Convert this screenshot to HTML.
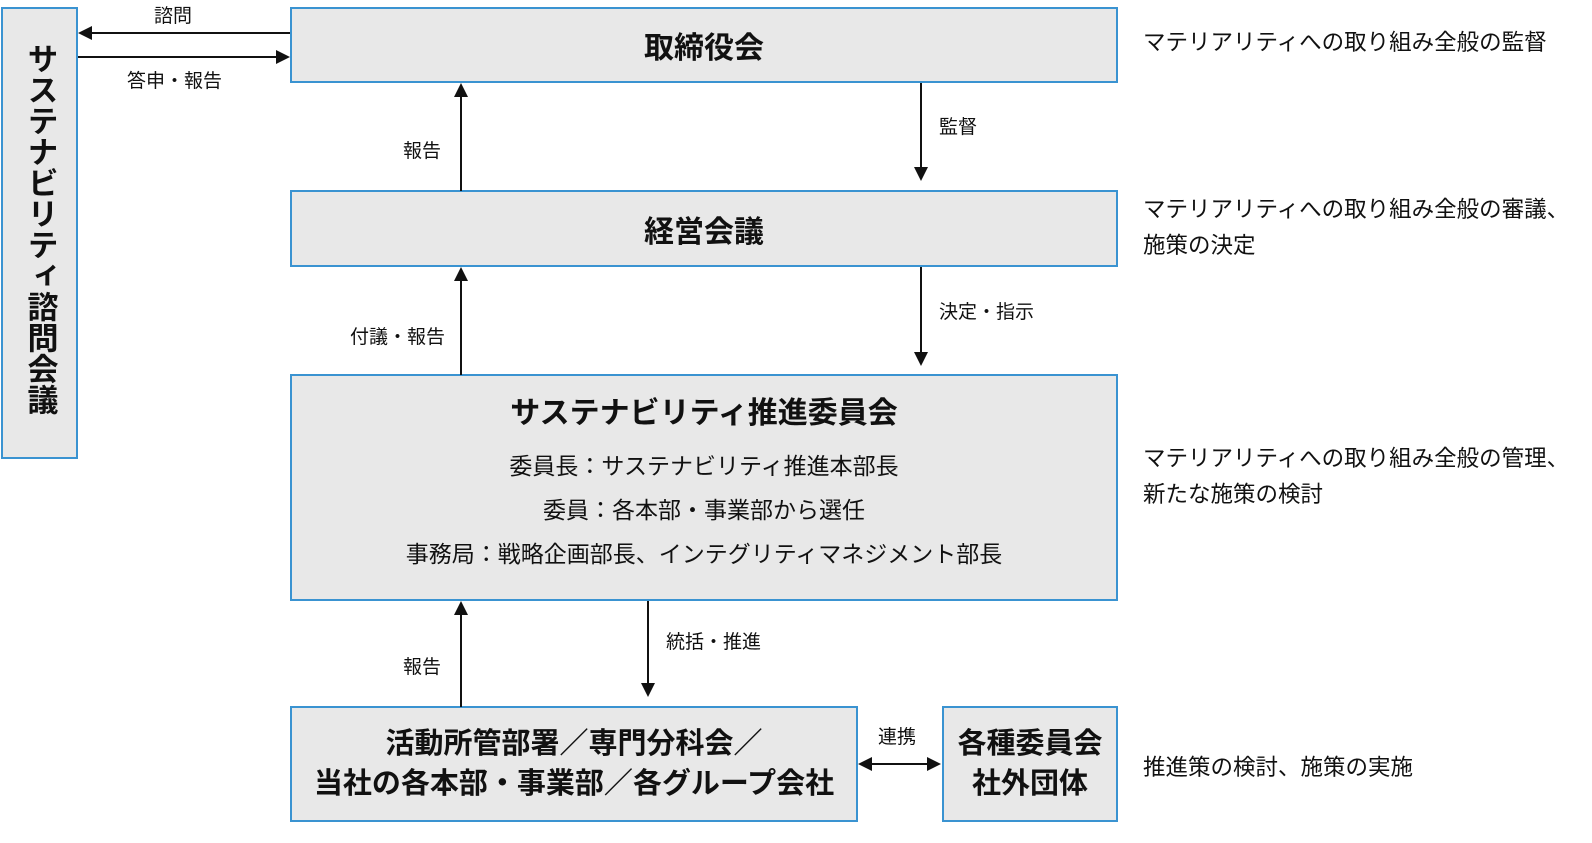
<!DOCTYPE html>
<html><head><meta charset="utf-8"><style>
body{margin:0;width:1592px;height:843px;background:#fff;position:relative;overflow:hidden;font-family:"Liberation Sans","Noto Sans CJK JP",sans-serif;color:#111}
.b{position:absolute;box-sizing:border-box;border:2px solid #3a93d1;background:#e8e8e8;display:flex;flex-direction:column;align-items:center;justify-content:center;text-align:center}
.t{font-weight:bold;font-size:30px}
.l{position:absolute;font-size:19px;white-space:nowrap}
.r{position:absolute;font-size:22.5px;line-height:36px;white-space:nowrap;left:1143px}
</style></head><body>
<div class="b t" style="left:1px;top:7px;width:77px;height:452px;justify-content:flex-start;padding-top:34px"><div style="writing-mode:vertical-rl;font-size:31px;line-height:40px">サステナビリティ諮問会議</div></div>
<div class="b t" style="left:290px;top:7px;width:828px;height:76px">取締役会</div>
<div class="b t" style="left:290px;top:190px;width:828px;height:77px">経営会議</div>
<div class="b" style="left:290px;top:374px;width:828px;height:227px;justify-content:flex-start;padding-top:12px">
<div class="t" style="margin-bottom:12px">サステナビリティ推進委員会</div>
<div style="font-size:23px;line-height:44px">委員長：サステナビリティ推進本部長<br>委員：各本部・事業部から選任<br>事務局：戦略企画部長、インテグリティマネジメント部長</div></div>
<div class="b t" style="left:290px;top:706px;width:568px;height:116px;line-height:40px;font-size:29px">活動所管部署／専門分科会／<br>当社の各本部・事業部／各グループ会社</div>
<div class="b t" style="left:942px;top:706px;width:176px;height:116px;line-height:40px;font-size:29px">各種委員会<br>社外団体</div>
<svg width="1592" height="843" style="position:absolute;left:0;top:0" fill="#111" stroke="#111" stroke-width="2">
<line x1="290" y1="33" x2="90" y2="33"/><polygon points="78,33 92,26 92,40" stroke="none"/>
<line x1="78" y1="57" x2="278" y2="57"/><polygon points="290,57 276,50 276,64" stroke="none"/>
<line x1="461" y1="191" x2="461" y2="96"/><polygon points="461,83 454,97 468,97" stroke="none"/>
<line x1="461" y1="375" x2="461" y2="280"/><polygon points="461,267 454,281 468,281" stroke="none"/>
<line x1="461" y1="707" x2="461" y2="614"/><polygon points="461,601 454,615 468,615" stroke="none"/>
<line x1="921" y1="83" x2="921" y2="168"/><polygon points="921,181 914,167 928,167" stroke="none"/>
<line x1="921" y1="267" x2="921" y2="353"/><polygon points="921,366 914,352 928,352" stroke="none"/>
<line x1="648" y1="601" x2="648" y2="684"/><polygon points="648,697 641,683 655,683" stroke="none"/>
<line x1="870" y1="764" x2="929" y2="764"/><polygon points="858,764 872,757 872,771" stroke="none"/><polygon points="941,764 927,757 927,771" stroke="none"/>
</svg>
<div class="l" style="left:154px;top:1px">諮問</div>
<div class="l" style="left:127px;top:66px">答申・報告</div>
<div class="l" style="left:403px;top:136px">報告</div>
<div class="l" style="left:350px;top:322px">付議・報告</div>
<div class="l" style="left:403px;top:652px">報告</div>
<div class="l" style="left:939px;top:112px">監督</div>
<div class="l" style="left:939px;top:297px">決定・指示</div>
<div class="l" style="left:666px;top:627px">統括・推進</div>
<div class="l" style="left:878px;top:722px">連携</div>
<div class="r" style="top:25px">マテリアリティへの取り組み全般の監督</div>
<div class="r" style="top:192px">マテリアリティへの取り組み全般の審議、<br>施策の決定</div>
<div class="r" style="top:441px">マテリアリティへの取り組み全般の管理、<br>新たな施策の検討</div>
<div class="r" style="top:750px">推進策の検討、施策の実施</div>
</body></html>
